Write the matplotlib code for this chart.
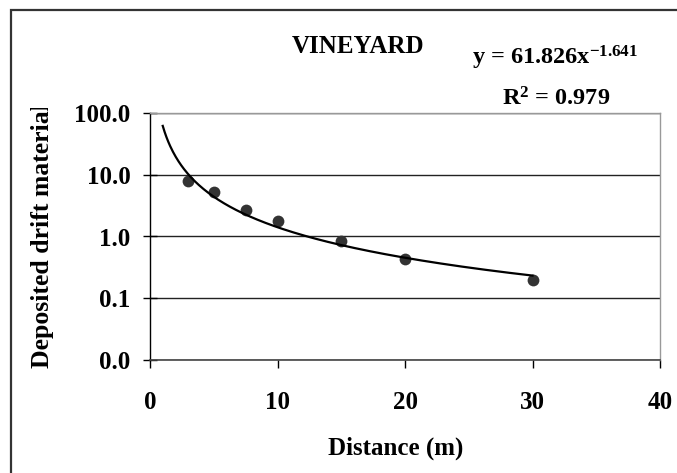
import numpy as np
import matplotlib
matplotlib.use("Agg")
import matplotlib.pyplot as plt
from matplotlib.ticker import FixedLocator, FuncFormatter, NullLocator
from matplotlib.transforms import Bbox, TransformedBbox
from matplotlib.patches import Rectangle

# Measured drift deposits and fitted power-law trend
distance = [3, 5, 7.5, 10, 15, 20, 30]
deposit = [7.8, 5.3, 2.7, 1.77, 0.85, 0.43, 0.20]
fit_coef = 61.826
fit_exp = -1.641
fit_r2 = 0.979
fit_range = [1, 30]
x_ticks = [0, 10, 20, 30, 40]
y_ticks = [0.01, 0.1, 1, 10, 100]

plt.rcParams["font.family"] = ["Liberation Serif", "DejaVu Serif"]
plt.rcParams["font.weight"] = "bold"
plt.rcParams["mathtext.fontset"] = "custom"
plt.rcParams["mathtext.rm"] = "Liberation Serif:bold"
plt.rcParams["mathtext.it"] = "Liberation Serif:bold"
plt.rcParams["mathtext.bf"] = "Liberation Serif:bold"

W, H = 677, 473
fig = plt.figure(figsize=(W / 100, H / 100), dpi=100)
ax = fig.add_axes([150 / W, 1 - 360 / H, 510 / W, 247 / H])

# data and trend line
ax.scatter(distance, deposit, s=72, color="#333333", zorder=3, linewidths=0)
xs = np.linspace(fit_range[0], fit_range[1], 400)
ax.plot(xs, fit_coef * xs ** fit_exp, color="black", lw=1.6, zorder=4)

ax.set_yscale("log")
ax.set_xlim(x_ticks[0], x_ticks[-1])
ax.set_ylim(y_ticks[0], y_ticks[-1])
ax.xaxis.set_major_locator(FixedLocator(x_ticks))
ax.yaxis.set_major_locator(FixedLocator(y_ticks))
ax.yaxis.set_minor_locator(NullLocator())
ax.yaxis.set_major_formatter(FuncFormatter(lambda v, p: f"{v:.1f}"))

ax.yaxis.grid(True, color="#222222", lw=1.0)
ax.set_axisbelow(True)
for side in ("top", "right"):
    ax.spines[side].set_color("#999999")
    ax.spines[side].set_linewidth(1.0)
ax.spines["left"].set_color("black")
ax.spines["bottom"].set_color("#444444")
ax.spines["left"].set_linewidth(1.0)
ax.spines["bottom"].set_linewidth(1.2)

ax.tick_params(axis="y", direction="inout", length=10, width=1, pad=9,
               labelsize=18)
ax.tick_params(axis="x", direction="out", length=6, width=1, pad=16,
               labelsize=18)
for lab in ax.get_xticklabels() + ax.get_yticklabels():
    lab.set_fontweight("bold")

# axis titles
ax.set_xlabel("Distance (m)", fontsize=18, fontweight="bold")
ax.xaxis.set_label_coords((396 - 150) / 510, (360 - 437) / 247)

# the y title is cut off where its text box ends
ylab = ax.set_ylabel("Deposited drift material", fontsize=18.5,
                     fontweight="bold")
ylab.set_ha("left")
ylab.set_va("bottom")
ax.yaxis.set_label_coords((54 - 150) / 510, (360 - 368) / 247)
ylab.set_clip_box(TransformedBbox(Bbox([[0, 0], [1, 1 - 108 / H]]),
                                  fig.transFigure))
ylab.set_clip_on(True)

# chart title and fit annotation
fig.text(358 / W, 1 - 53 / H, "VINEYARD", ha="center", va="baseline",
         fontsize=18, fontweight="bold")
fig.text(555 / W, 1 - 65 / H, f"y = {fit_coef}x$^{{{fit_exp}}}$",
         ha="center", va="baseline", fontsize=17.5, fontweight="bold")
fig.text(556 / W, 1 - 105 / H, f"R$^{{2}}$ = {fit_r2}",
         ha="center", va="baseline", fontsize=17.5, fontweight="bold")

# outer chart frame
fig.add_artist(Rectangle((11 / W, -0.5), 1.0, 1.5 - 10 / H,
                         transform=fig.transFigure, fill=False,
                         ec="#333333", lw=1.6))

fig.savefig("out.png", dpi=100)
